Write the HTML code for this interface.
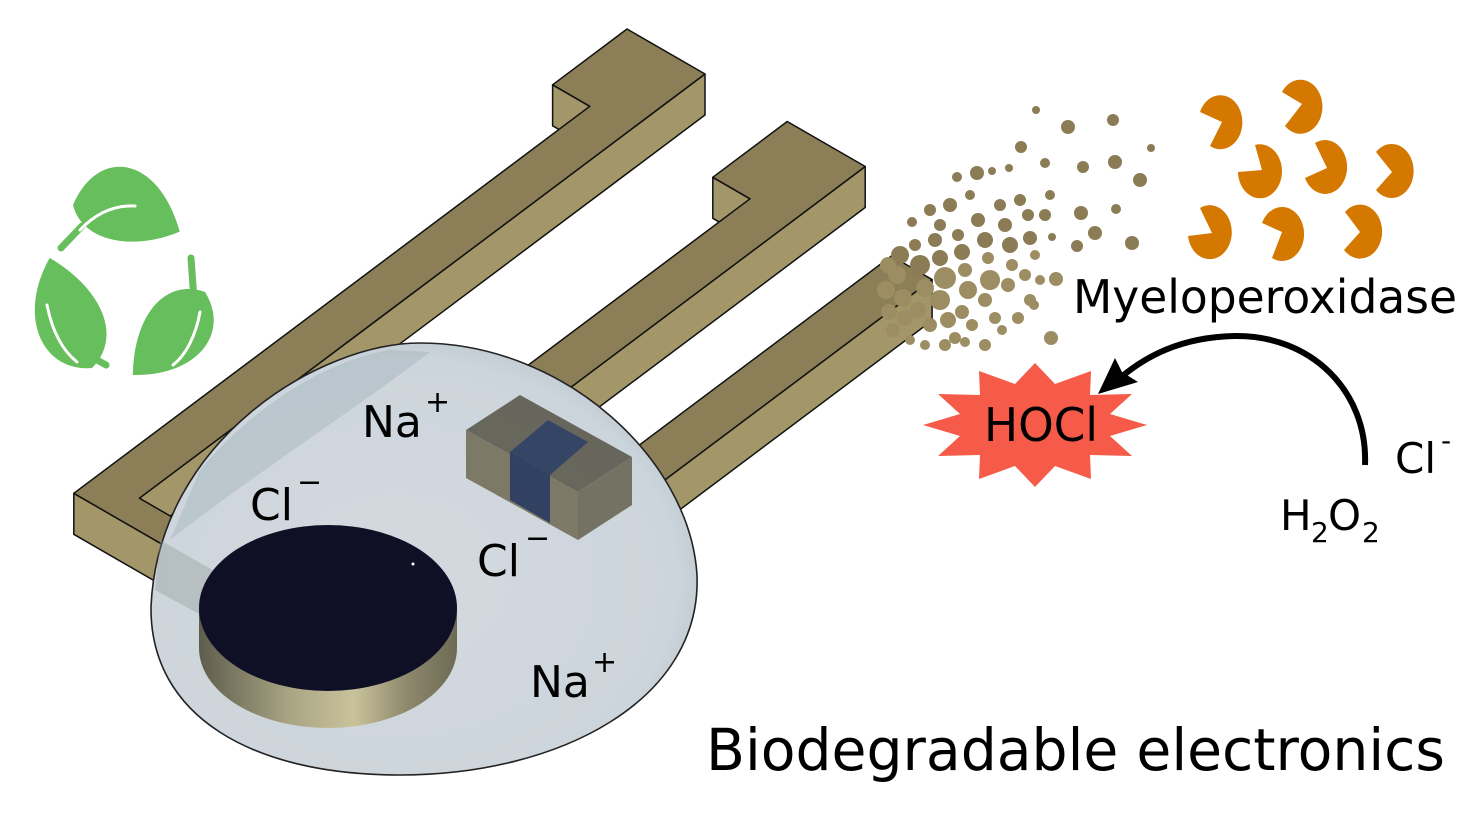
<!DOCTYPE html>
<html><head><meta charset="utf-8"><style>
html,body{margin:0;padding:0;background:#fff;}
svg{display:block;}
text{font-family:"DejaVu Sans","Liberation Sans",sans-serif;fill:#000;}
</style></head><body>
<svg width="1475" height="831" viewBox="0 0 1475 831" xmlns="http://www.w3.org/2000/svg">
<defs>
<linearGradient id="band" x1="0" x2="1" y1="0" y2="0">
<stop offset="0" stop-color="#5e5d4c"/><stop offset="0.35" stop-color="#a9a483"/><stop offset="0.6" stop-color="#c9c39b"/><stop offset="0.8" stop-color="#8f8a6d"/><stop offset="1" stop-color="#6d6a55"/>
</linearGradient>
<radialGradient id="domeg" cx="0.45" cy="0.55" r="0.6">
<stop offset="0" stop-color="#d3d9df"/><stop offset="0.85" stop-color="#cdd5dc"/><stop offset="1" stop-color="#b9c6cc"/>
</radialGradient>
</defs>

<!-- recycle leaves -->
<g fill="#67be5c">
<path d="M0,0 C10,-62 70,-70 110,0 C70,30 18,34 0,0Z" transform="translate(73,205) rotate(14)"/>
<path d="M0,0 C14,-48 75,-52 118,0 C70,38 18,40 0,0Z" transform="translate(92,368) rotate(249)"/>
<path d="M0,0 C14,-46 68,-50 110,0 C65,38 16,40 0,0Z" transform="translate(205,292) rotate(131)"/>
</g>
<g stroke="#67be5c" stroke-width="7" stroke-linecap="round" fill="none">
<line x1="61" y1="248" x2="82" y2="226"/>
<line x1="106" y1="365" x2="88" y2="355"/>
<line x1="191" y1="258" x2="194" y2="300"/>
</g>
<g stroke="#fff" stroke-width="3" fill="none" stroke-linecap="round">
<path d="M80,230 C97,212 115,205 135,206"/>
<path d="M47,305 C52,330 62,350 77,362"/>
<path d="M200,312 C196,335 186,355 173,365"/>
</g>

<!-- traces -->
<g stroke="#111" stroke-width="1.5" stroke-linejoin="round">
<polygon fill="#a39669" points="705,74 139.4,498.2 139.4,539.2 705,115"/>
<polygon fill="#a39669" points="73.8,493.3 322.4,636.8 322.4,677.8 73.8,534.3"/>
<polygon fill="#a39669" points="552.6,84.8 589.8,106.3 589.8,147.3 552.6,125.8"/>
<polygon fill="#8c7f57" points="627,29 705,74 139.4,498.2 347.2,618.2 322.4,636.8 73.8,493.3 589.8,106.3 552.6,84.8"/>
<polygon fill="#a39669" points="865.2,166.5 417.2,502.5 417.2,543.5 865.2,207.5"/>
<polygon fill="#a39669" points="712.8,177.3 750,198.8 750,239.8 712.8,218.3"/>
<polygon fill="#8c7f57" points="787.2,121.5 865.2,166.5 417.2,502.5 376.5,479 750,198.8 712.8,177.3"/>
<polygon fill="#a39669" points="932.1,279.5 540.1,573.5 540.1,614.5 932.1,320.5"/>
<polygon fill="#8c7f57" points="891.4,256 932.1,279.5 540.1,573.5 499.4,550"/>
</g>

<!-- dome -->
<path d="M151,607 C158,440 320,343 420,343 C565,343 690,460 697,575 C702,700 560,775 400,775 C250,775 150,715 151,607Z" fill="url(#domeg)" stroke="#222" stroke-width="1.6"/>
<path d="M200,470 C260,400 330,360 390,350 L430,352 C340,420 260,470 170,540Z" fill="#7f9aa0" opacity="0.25"/>
<path d="M160,540 L230,580 L210,620 L155,590Z" fill="#8a9490" opacity="0.35"/>

<!-- chip -->
<g opacity="0.9">
<polygon fill="#5d5b4f" points="466,430 520,395 632,457 578,492"/>
<polygon fill="#74705b" points="466,430 578,492 578,540 466,478"/>
<polygon fill="#6b6855" points="578,492 632,457 632,505 578,540"/>
<polygon fill="#25365a" points="510,452 548,420 588,442 550,475"/>
<polygon fill="#213154" points="510,452 550,475 550,523 510,500"/>
</g>

<!-- electrode disk -->
<path d="M199,608 L199,648 A129 80 0 0 0 457,648 L457,608Z" fill="url(#band)"/>
<ellipse cx="328" cy="608" rx="129" ry="83" fill="#0f1026"/>
<circle cx="413" cy="564" r="1.5" fill="#fff"/>

<!-- ion labels -->
<text x="362" y="437" font-size="44">Na</text><text x="425" y="412" font-size="30">+</text>
<text x="250" y="520" font-size="44">Cl</text><text x="297" y="492" font-size="30">−</text>
<text x="477" y="576" font-size="44">Cl</text><text x="525" y="548" font-size="30">−</text>
<text x="530" y="697" font-size="44">Na</text><text x="592" y="672" font-size="30">+</text>

<!-- particles -->
<g fill="#8b7c56">
<circle cx="1036" cy="110" r="4"/><circle cx="1068" cy="127" r="7"/><circle cx="1113" cy="120" r="6"/><circle cx="1021" cy="147" r="6"/><circle cx="1151" cy="148" r="4"/><circle cx="1045" cy="163" r="5"/><circle cx="1083" cy="167" r="6"/><circle cx="1115" cy="162" r="7"/><circle cx="1140" cy="180" r="7"/><circle cx="977" cy="173" r="7"/><circle cx="992" cy="171" r="4"/><circle cx="1009" cy="168" r="4"/><circle cx="957" cy="177" r="5"/><circle cx="1081" cy="213" r="7"/><circle cx="1116" cy="209" r="5"/><circle cx="1095" cy="233" r="7"/><circle cx="1132" cy="243" r="7"/><circle cx="1077" cy="246" r="6"/><circle cx="1052" cy="237" r="4"/>
<circle cx="912" cy="222" r="5"/><circle cx="930" cy="210" r="6"/><circle cx="950" cy="205" r="7"/><circle cx="970" cy="195" r="5"/><circle cx="940" cy="225" r="6"/><circle cx="1045" cy="215" r="6"/><circle cx="1050" cy="195" r="5"/>
<circle cx="978" cy="220" r="7"/><circle cx="985" cy="240" r="8"/><circle cx="1000" cy="205" r="6"/><circle cx="1005" cy="225" r="7"/><circle cx="1010" cy="245" r="8"/><circle cx="1020" cy="200" r="6"/><circle cx="1028" cy="215" r="6"/><circle cx="1030" cy="238" r="7"/>
<circle cx="935" cy="240" r="7"/><circle cx="958" cy="235" r="6"/><circle cx="962" cy="252" r="8"/><circle cx="940" cy="258" r="8"/><circle cx="915" cy="245" r="6"/><circle cx="920" cy="265" r="10"/><circle cx="900" cy="255" r="9"/>
</g>
<g fill="#9c8d63">
<circle cx="897" cy="275" r="9"/><circle cx="903" cy="298" r="9"/><circle cx="905" cy="318" r="8"/><circle cx="893" cy="330" r="7"/><circle cx="925" cy="288" r="9"/><circle cx="918" cy="310" r="8"/><circle cx="930" cy="325" r="7"/><circle cx="945" cy="278" r="11"/><circle cx="940" cy="300" r="10"/><circle cx="948" cy="320" r="8"/><circle cx="955" cy="338" r="6"/><circle cx="965" cy="270" r="7"/><circle cx="968" cy="290" r="9"/><circle cx="962" cy="312" r="7"/><circle cx="972" cy="325" r="6"/><circle cx="988" cy="258" r="6"/><circle cx="990" cy="280" r="10"/><circle cx="985" cy="300" r="7"/><circle cx="995" cy="318" r="6"/><circle cx="1012" cy="265" r="6"/><circle cx="1008" cy="285" r="7"/><circle cx="1035" cy="255" r="5"/><circle cx="1025" cy="275" r="6"/><circle cx="1040" cy="280" r="5"/><circle cx="1030" cy="300" r="6"/><circle cx="925" cy="345" r="5"/><circle cx="945" cy="345" r="6"/><circle cx="910" cy="340" r="5"/><circle cx="1002" cy="330" r="5"/><circle cx="1018" cy="318" r="6"/><circle cx="1056" cy="279" r="7"/><circle cx="1034" cy="305" r="5"/><circle cx="1051" cy="338" r="7"/><circle cx="985" cy="345" r="6"/><circle cx="965" cy="342" r="5"/><circle cx="888" cy="265" r="8"/><circle cx="886" cy="290" r="9"/><circle cx="889" cy="312" r="8"/>
</g>

<!-- myeloperoxidase pacmen -->
<g fill="#d57800">
<path d="M1222,122 L1200,112 A22 27 0 1 1 1210,146 Z"/>
<path d="M1302,104 L1285,126 A22 27 0 1 0 1282,92 Z"/>
<path d="M1262,170 L1238,172 A22 27 0 1 0 1255,145 Z"/>
<path d="M1327,168 L1305,178 A22 27 0 1 0 1315,143 Z"/>
<path d="M1392,172 L1376,190 A22 27 0 1 0 1376,152 Z"/>
<path d="M1212,233 L1188,236 A22 27 0 1 0 1200,208 Z"/>
<path d="M1282,232 L1262,223 A22 27 0 1 1 1272,258 Z"/>
<path d="M1360,232 L1344,250 A22 27 0 1 0 1345,212 Z"/>
</g>

<text x="1073" y="313" font-size="46" textLength="384" lengthAdjust="spacingAndGlyphs">Myeloperoxidase</text>

<!-- HOCl star -->
<polygon fill="#f65a48" points="1147,425 1110,436 1132,456 1090,455 1091,479 1055,466 1035,487 1015,466 979,479 980,455 938,456 960,436 923,425 960,414 938,394 980,395 979,371 1015,384 1035,363 1055,384 1091,371 1090,395 1132,394 1110,414"/>
<text x="984" y="441" font-size="46" textLength="114" lengthAdjust="spacingAndGlyphs">HOCl</text>

<!-- arrow -->
<path d="M1365,465 C1368,390 1310,335 1235,336 C1180,337 1145,357 1120,378" fill="none" stroke="#000" stroke-width="6"/>
<polygon fill="#000" points="1098,394 1115,358 1122,372 1138,382"/>

<text x="1395" y="473" font-size="42">Cl</text><text x="1441" y="450" font-size="28">-</text>
<text x="1280" y="530" font-size="42">H</text><text x="1311" y="542" font-size="28">2</text><text x="1328" y="530" font-size="42">O</text><text x="1362" y="542" font-size="28">2</text>

<text x="706" y="770" font-size="58" textLength="739" lengthAdjust="spacingAndGlyphs">Biodegradable electronics</text>
</svg>
</body></html>
